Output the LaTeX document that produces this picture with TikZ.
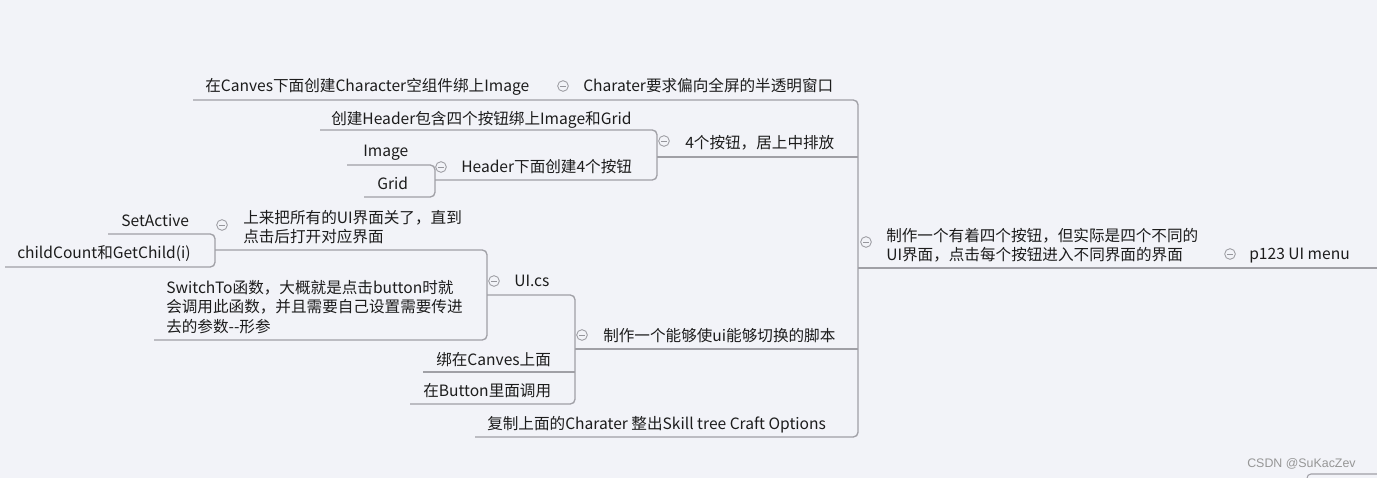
\documentclass[tikz,border=0pt]{standalone}
\usepackage{fontspec}
\setmainfont{Noto Sans CJK SC}
\newfontfamily\wmfont{Liberation Sans}
\definecolor{bg}{RGB}{242,243,248}
\definecolor{linec}{RGB}{160,160,166}
\definecolor{txtc}{RGB}{28,28,28}
\definecolor{foldc}{RGB}{150,150,156}
\definecolor{wmc}{RGB}{150,150,150}
\begin{document}
\begin{tikzpicture}[x=0.75pt,y=-0.75pt,
  conn/.style={draw=linec, line width=1pt, rounded corners=3.5pt},
  txt/.style={anchor=west, inner sep=0pt, text=txtc, font=\fontsize{11.7}{14.6}\selectfont, text height=10.2pt, text depth=2.4pt},
  mtxt/.style={anchor=west, inner sep=0pt, text=txtc, font=\fontsize{11.7}{14.6}\selectfont, align=left},
  fold/.style={circle, draw=foldc, fill=bg, line width=0.6pt, minimum size=8pt, inner sep=0pt,
    path picture={\draw[foldc, line width=0.6pt] ([xshift=-2.2pt]path picture bounding box.center) -- ([xshift=2.2pt]path picture bounding box.center);}}]
\fill[bg] (0,0) rectangle (1377,478);
\useasboundingbox (0,0) rectangle (1377,478);

% coordinates of connector ends
\coordinate (u0L) at (858,268);  \coordinate (u0R) at (1377,268);
\coordinate (L11) at (193,100);  \coordinate (b0T) at (858,100);
\coordinate (b0B) at (858,437);  \coordinate (L4) at (475,437);
\coordinate (L2) at (657,157);   \coordinate (J2) at (858,157);
\coordinate (L3) at (575,349);   \coordinate (J3) at (858,349);
\coordinate (L21) at (320,130);  \coordinate (B2T) at (657,130);
\coordinate (B2B) at (657,180);  \coordinate (L22) at (435,180);
\coordinate (L221) at (347,165); \coordinate (B22T) at (435,165);
\coordinate (B22B) at (435,197); \coordinate (L222) at (364,197);
\coordinate (L31) at (487,295);  \coordinate (B3T) at (575,295);
\coordinate (B3B) at (575,404);  \coordinate (L33) at (410,404);
\coordinate (L32) at (423,372);  \coordinate (J32) at (575,372);
\coordinate (L311) at (215,250); \coordinate (B31T) at (487,250);
\coordinate (B31B) at (487,340); \coordinate (L312) at (154,340);
\coordinate (L3111) at (108,234);\coordinate (B311T) at (215,234);
\coordinate (B311B) at (215,267);\coordinate (L3112) at (5,267);

% connectors / underlines
\draw[conn] (u0L) -- (u0R);
\draw[conn] (L11) -- (b0T) -- (b0B) -- (L4);
\draw[conn] (L2) -- (J2);
\draw[conn] (L3) -- (J3);
\draw[conn] (L21) -- (B2T) -- (B2B) -- (L22);
\draw[conn] (L221) -- (B22T) -- (B22B) -- (L222);
\draw[conn] (L31) -- (B3T) -- (B3B) -- (L33);
\draw[conn] (L32) -- (J32);
\draw[conn] (L311) -- (B31T) -- (B31B) -- (L312);
\draw[conn] (L3111) -- (B311T) -- (B311B) -- (L3112);

% texts
\node[txt] (root) at (1249,254) {p123 UI menu};
\node[mtxt] (main) at (886,245) {制作一个有着四个按钮，但实际是四个不同的\\UI界面，点击每个按钮进入不同界面的界面};
\node[txt] (n1) at (583,86) {Charater要求偏向全屏的半透明窗口};
\node[txt] (n11) at (205,86) {在Canves下面创建Character空组件绑上Image};
\node[txt] (n2) at (685,143) {4个按钮，居上中排放};
\node[txt] (n21) at (331,119) {创建Header包含四个按钮绑上Image和Grid};
\node[txt] (n22) at (461,167) {Header下面创建4个按钮};
\node[txt] (n221) at (363,151) {Image};
\node[txt] (n222) at (377,184) {Grid};
\node[txt] (n3) at (603,336) {制作一个能够使ui能够切换的脚本};
\node[txt] (n31) at (514,281) {UI.cs};
\node[mtxt] (n311) at (243,227) {上来把所有的UI界面关了，直到\\点击后打开对应界面};
\node[txt] (n3111) at (121,221) {SetActive};
\node[txt] (n3112) at (17,253) {childCount和GetChild(i)};
\node[mtxt] (n312) at (166,307) {SwitchTo函数，大概就是点击button时就\\会调用此函数，并且需要自己设置需要传进\\去的参数-{}-形参};
\node[txt] (n32) at (436,360) {绑在Canves上面};
\node[txt] (n33) at (423,391) {在Button里面调用};
\node[txt] (n4) at (487,424) {复制上面的Charater 整出Skill tree Craft Options};

% fold markers
\node[fold] (f0) at (1230,254) {};
\node[fold] (fm) at (866,242) {};
\node[fold] (f1) at (563,86) {};
\node[fold] (f2) at (664,141) {};
\node[fold] (f22) at (441,167) {};
\node[fold] (f3) at (582,335) {};
\node[fold] (f31) at (494,281) {};
\node[fold] (f311) at (222,225) {};

% watermark and partial box
\node[anchor=west, inner sep=0pt, text=wmc, font=\wmfont\fontsize{9.3}{11}\selectfont] (wm) at (1247,464) {CSDN @SuKacZev};
\coordinate (pb1) at (1307,478); \coordinate (pb2) at (1307,474); \coordinate (pb3) at (1377,474);
\draw[draw=linec, line width=0.8pt, rounded corners=3pt] (pb1) -- (pb2) -- (pb3);
\end{tikzpicture}
\end{document}
